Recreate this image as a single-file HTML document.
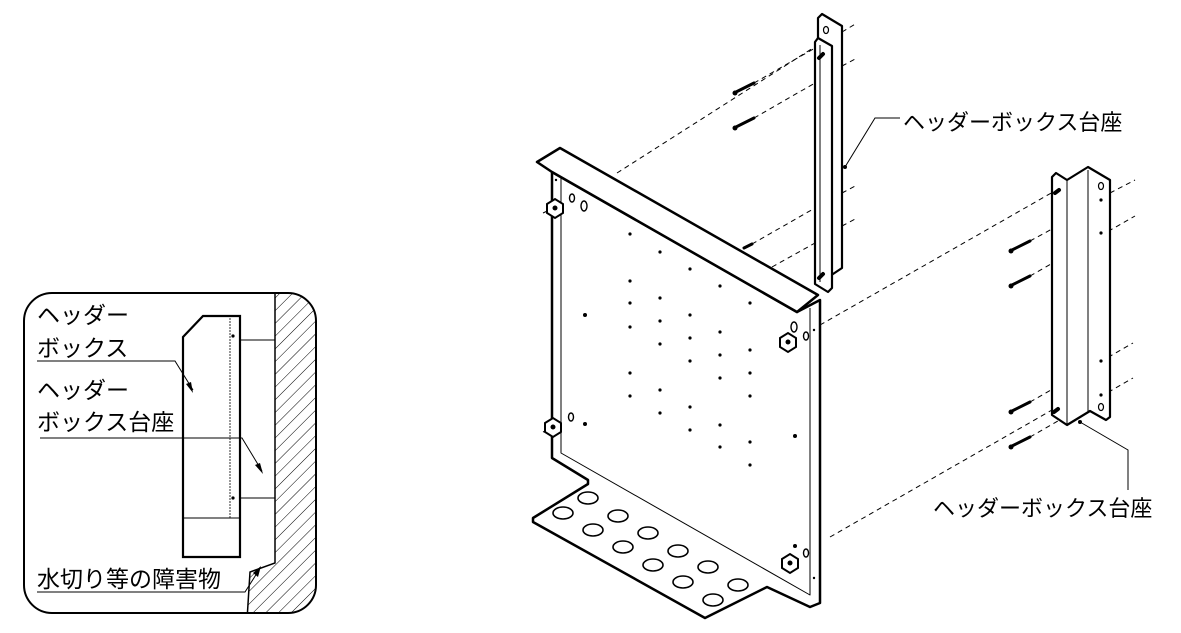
<!DOCTYPE html>
<html><head><meta charset="utf-8"><style>
html,body{margin:0;padding:0;background:#fff;}
svg{display:block;}
text{font-family:"Liberation Sans","Noto Sans CJK JP",sans-serif;fill:#000;}
</style></head><body>
<svg width="1181" height="633" viewBox="0 0 1181 633" xmlns="http://www.w3.org/2000/svg">
<defs>
<pattern id="h" width="9" height="9" patternUnits="userSpaceOnUse" patternTransform="rotate(45)">
<line x1="0" y1="0" x2="0" y2="9" stroke="#000" stroke-width="1"/>
</pattern>
<clipPath id="box"><rect x="24" y="293" width="292" height="320" rx="28"/></clipPath>
</defs>

<!-- INSET -->
<g clip-path="url(#box)">
<path d="M275,293 L275,563 L250,572 L247,620 L320,620 L320,293 Z" fill="url(#h)" stroke="none"/>
<path d="M275,293 L275,563 L250,572 L247,620" fill="none" stroke="#000" stroke-width="1.5"/>
</g>
<rect x="24" y="293" width="292" height="320" rx="28" fill="none" stroke="#000" stroke-width="2"/>
<path d="M183,337 L203,316 L240,316 L240,557 L183,557 Z" fill="#fff" stroke="#000" stroke-width="2.2"/>
<line x1="183" y1="518" x2="240" y2="518" stroke="#000" stroke-width="1"/>
<line x1="230" y1="318" x2="230" y2="518" stroke="#000" stroke-width="0.8" stroke-dasharray="2,1"/>
<line x1="240" y1="340" x2="275" y2="340" stroke="#000" stroke-width="1"/>
<line x1="240" y1="498" x2="275" y2="498" stroke="#000" stroke-width="1"/>
<circle cx="233" cy="336" r="1.6"/><circle cx="233" cy="498" r="1.6"/>
<text x="37" y="323" font-size="23">ヘッダー</text>
<text x="37" y="356" font-size="23">ボックス</text>
<path d="M37,361 L175,361 L193,390" fill="none" stroke="#000" stroke-width="1"/>
<path d="M193,393 L186,384 L191,382 Z"/>
<text x="37" y="398" font-size="23">ヘッダー</text>
<text x="37" y="430" font-size="23">ボックス台座</text>
<path d="M40,438 L242,438 L262,471" fill="none" stroke="#000" stroke-width="1"/>
<path d="M263,474 L255,465 L260,463 Z"/>
<text x="37" y="587" font-size="23">水切り等の障害物</text>
<path d="M37,592 L245,592 L259,570" fill="none" stroke="#000" stroke-width="1"/>
<path d="M261,566 L258,577 L253,573 Z"/>

<!-- DASHED LINES -->
<g stroke="#000" stroke-width="1" stroke-dasharray="5,4" fill="none">
<line x1="617" y1="173" x2="813" y2="48"/>
<line x1="842" y1="32" x2="857" y2="23"/>
<line x1="754" y1="83" x2="815" y2="48"/>
<line x1="754" y1="118" x2="815" y2="83"/>
<line x1="842" y1="66" x2="857" y2="58"/>
<line x1="752" y1="244" x2="815" y2="208"/>
<line x1="842" y1="193" x2="857" y2="185"/>
<line x1="772" y1="267" x2="815" y2="243"/>
<line x1="842" y1="226" x2="857" y2="218"/>
<line x1="820" y1="325" x2="1053" y2="192"/>
<line x1="1110" y1="193" x2="1135" y2="180"/>
<line x1="1030" y1="276" x2="1135" y2="216"/>
<line x1="1030" y1="241" x2="1052" y2="229"/>
<line x1="830" y1="537" x2="1052" y2="410"/>
<line x1="1030" y1="402" x2="1133" y2="343"/>
<line x1="1030" y1="437" x2="1133" y2="378"/>
<line x1="775" y1="346" x2="800" y2="336"/>
<line x1="543" y1="213" x2="560" y2="205"/>
<line x1="543" y1="432" x2="560" y2="424"/>
</g>

<!-- MAIN PANEL -->
<g stroke="#000" stroke-linejoin="round" fill="#fff">
<path d="M552,172 L552,458 L588,480 L588,484 L533,518 L533,522 L705,618 L767,587 L810,607 L820,603 L820,300 L797,312 Z" stroke-width="2.5"/>
<path d="M537,162 L560,148 L818,295 L797,312 L552,172 Z" stroke-width="2.5"/>
<path d="M561,178 L561,453 L810,595 L810,308" fill="none" stroke-width="1"/>
</g>
<g fill="#fff" stroke="#000" stroke-width="1.6">
<ellipse cx="588" cy="498" rx="10" ry="6"/><ellipse cx="563" cy="513" rx="10" ry="6"/>
<ellipse cx="618" cy="516" rx="10" ry="6"/><ellipse cx="593" cy="530" rx="10" ry="6"/>
<ellipse cx="648" cy="533" rx="10" ry="6"/><ellipse cx="623" cy="547" rx="10" ry="6"/>
<ellipse cx="678" cy="551" rx="10" ry="6"/><ellipse cx="653" cy="565" rx="10" ry="6"/>
<ellipse cx="708" cy="567" rx="10" ry="6"/><ellipse cx="683" cy="582" rx="10" ry="6"/>
<ellipse cx="738" cy="585" rx="10" ry="6"/><ellipse cx="713" cy="600" rx="10" ry="6"/>
</g>
<g>
<circle cx="630" cy="234" r="1.6"/><circle cx="660" cy="252" r="1.6"/><circle cx="690" cy="269" r="1.6"/>
<circle cx="630" cy="281" r="1.6"/><circle cx="720" cy="286" r="1.6"/><circle cx="750" cy="303" r="1.6"/>
<circle cx="660" cy="298" r="1.6"/><circle cx="630" cy="303" r="1.6"/><circle cx="690" cy="315" r="1.6"/>
<circle cx="660" cy="321" r="1.6"/><circle cx="630" cy="327" r="1.6"/><circle cx="720" cy="332" r="1.6"/>
<circle cx="690" cy="338" r="1.6"/><circle cx="660" cy="344" r="1.6"/><circle cx="750" cy="350" r="1.6"/>
<circle cx="720" cy="355" r="1.6"/><circle cx="690" cy="361" r="1.6"/><circle cx="630" cy="373" r="1.6"/>
<circle cx="750" cy="373" r="1.6"/><circle cx="720" cy="378" r="1.6"/><circle cx="660" cy="390" r="1.6"/>
<circle cx="630" cy="396" r="1.6"/><circle cx="750" cy="396" r="1.6"/><circle cx="690" cy="407" r="1.6"/>
<circle cx="660" cy="413" r="1.6"/><circle cx="720" cy="425" r="1.6"/><circle cx="690" cy="430" r="1.6"/>
<circle cx="750" cy="442" r="1.6"/><circle cx="720" cy="447" r="1.6"/><circle cx="750" cy="465" r="1.6"/>
<circle cx="585" cy="315" r="2"/><circle cx="585" cy="424" r="2"/><circle cx="795" cy="436" r="2"/><circle cx="795" cy="546" r="2"/>
<circle cx="556" cy="180" r="1.2"/><circle cx="814" cy="330" r="1.2"/><circle cx="814" cy="578" r="1.2"/>
</g>
<g fill="#fff" stroke="#000" stroke-width="1.4">
<ellipse cx="572" cy="198" rx="2.5" ry="4"/><ellipse cx="584" cy="206" rx="3" ry="5"/>
<ellipse cx="571" cy="417" rx="2.5" ry="4"/>
<ellipse cx="794" cy="327" rx="3" ry="5"/><ellipse cx="806" cy="336" rx="2.5" ry="4"/>
<ellipse cx="806" cy="553" rx="2.5" ry="4"/>
</g>
<g fill="#fff" stroke="#000" stroke-width="2">
<polygon points="547,204 555,199 563,204 563,213 555,218 547,213"/>
<polygon points="545,423 553,418 561,423 561,432 553,437 545,432"/>
<polygon points="780,338 788,333 796,338 796,347 788,352 780,347"/>
<polygon points="782,559 790,554 798,559 798,568 790,573 782,568"/>
</g>
<circle cx="555" cy="208" r="2.5"/><circle cx="553" cy="427" r="2.5"/><circle cx="788" cy="342" r="2.5"/><circle cx="790" cy="563" r="2.5"/>

<!-- UPPER BRACKET -->
<g stroke="#000" stroke-linejoin="round" fill="#fff" stroke-width="2.2">
<path d="M818,18 L822,14 L842,26 L842,268 L830,276 L818,268 Z"/>
<path d="M815,42 L818,38 L832,46 L832,288 L828,292 L815,284 Z"/>
</g>
<line x1="820" y1="45" x2="820" y2="282" stroke="#000" stroke-width="1"/>
<ellipse cx="826" cy="30" rx="2.5" ry="3.5" fill="none" stroke="#000" stroke-width="1.2"/>
<g stroke="#000" stroke-width="4" stroke-linecap="round"><line x1="819" y1="58" x2="823" y2="54"/><line x1="819" y1="278" x2="823" y2="274"/></g>

<!-- RIGHT BRACKET -->
<g stroke="#000" stroke-linejoin="round" fill="#fff" stroke-width="2.2">
<path d="M1052,177 L1056,173 L1067,180 L1088,167 L1110,180 L1110,417 L1106,420 L1090,411 L1067,425 L1052,415 Z"/>
</g>
<line x1="1067" y1="180" x2="1067" y2="425" stroke="#000" stroke-width="1"/>
<line x1="1088" y1="170" x2="1088" y2="412" stroke="#000" stroke-width="1"/>
<g fill="none" stroke="#000" stroke-width="1.2"><ellipse cx="1101" cy="186" rx="2.5" ry="3.5"/><ellipse cx="1101" cy="407" rx="2.5" ry="3.5"/></g>
<circle cx="1101" cy="200" r="1.6"/><circle cx="1101" cy="233" r="1.6"/><circle cx="1101" cy="361" r="1.6"/><circle cx="1101" cy="395" r="1.6"/>
<g stroke="#000" stroke-width="4" stroke-linecap="round"><line x1="1055" y1="193" x2="1059" y2="190"/><line x1="1054" y1="412" x2="1058" y2="409"/></g>

<!-- SCREWS -->
<g stroke="#000" stroke-width="3" stroke-linecap="round">
<line x1="736" y1="92" x2="754" y2="83"/><line x1="736" y1="127" x2="754" y2="118"/>
<line x1="744" y1="248" x2="752" y2="244"/>
<line x1="1012" y1="250" x2="1030" y2="241"/><line x1="1012" y1="285" x2="1030" y2="276"/>
<line x1="1012" y1="411" x2="1030" y2="402"/><line x1="1012" y1="446" x2="1030" y2="437"/>
</g>
<g><circle cx="735" cy="93" r="2.5"/><circle cx="735" cy="128" r="2.5"/><circle cx="1011" cy="251" r="2.5"/><circle cx="1011" cy="286" r="2.5"/><circle cx="1011" cy="412" r="2.5"/><circle cx="1011" cy="447" r="2.5"/></g>

<!-- LABELS -->
<path d="M845,167 L875,118 L900,118" fill="none" stroke="#000" stroke-width="1"/>
<circle cx="845" cy="167" r="2"/>
<text x="903" y="130" font-size="22">ヘッダーボックス台座</text>
<path d="M1080,422 L1128,450 L1128,490" fill="none" stroke="#000" stroke-width="1"/>
<circle cx="1080" cy="422" r="2"/>
<text x="933" y="516" font-size="22">ヘッダーボックス台座</text>
</svg>
</body></html>
